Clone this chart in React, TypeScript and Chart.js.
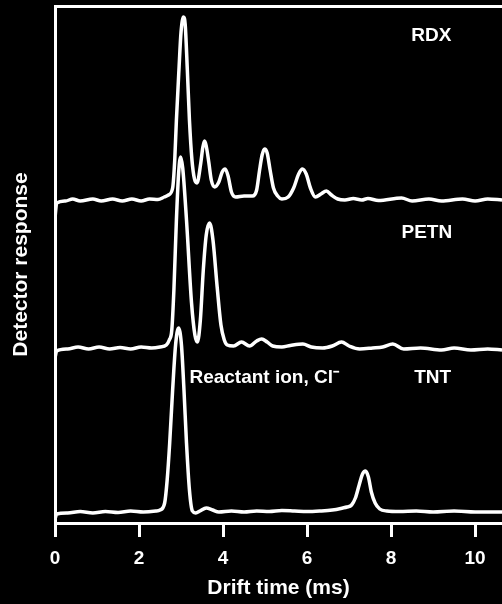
import React, { useEffect, useRef } from "react";
import { Chart, registerables } from "chart.js";

Chart.register(...registerables);

// Drift time (ms) and detector response (arbitrary units, relative to each trace's baseline)
const rdxTime = [0.0, 0.04, 0.25, 0.42, 0.6, 0.9, 1.1, 1.37, 1.6, 1.83, 2.05, 2.25, 2.45, 2.6, 2.7, 2.8, 2.85, 2.89, 2.95, 3.0, 3.06, 3.1, 3.15, 3.2, 3.26, 3.32, 3.38, 3.47, 3.52, 3.56, 3.6, 3.66, 3.72, 3.8, 3.9, 3.98, 4.05, 4.12, 4.2, 4.3, 4.5, 4.7, 4.8, 4.87, 4.93, 4.99, 5.05, 5.12, 5.2, 5.3, 5.4, 5.55, 5.68, 5.8, 5.89, 5.98, 6.08, 6.2, 6.33, 6.46, 6.58, 6.73, 6.9, 7.1, 7.3, 7.45, 7.7, 8.25, 8.5, 8.9, 9.2, 9.7, 10.0, 10.3, 10.64];
const rdxResponse = [-18, -3, -1, 1, -1, 1, -1, 1, -1, 1, -1, 1, 0.5, 3, 5, 12, 40, 80, 130, 168, 183, 175, 130, 80, 40, 21, 17, 37, 53, 59, 54, 38, 20, 13, 18, 28, 31, 24, 8, 3, 4, 4, 10, 30, 45, 51, 47, 30, 12, 4, 1, 3, 12, 26, 31, 26, 12, 3, 6, 9, 5, 1, 0, 1.5, 0, 1.5, -0.5, 2, -1, 1, -1, 1, -1, 1, 0];

const petnTime = [0.0, 0.04, 0.3, 0.55, 0.8, 1.05, 1.3, 1.55, 1.8, 2.05, 2.3, 2.5, 2.65, 2.72, 2.78, 2.83, 2.89, 2.94, 2.99, 3.04, 3.13, 3.25, 3.33, 3.39, 3.46, 3.53, 3.6, 3.68, 3.76, 3.86, 3.95, 4.03, 4.1, 4.25, 4.44, 4.63, 4.8, 4.92, 5.05, 5.18, 5.4, 5.6, 5.9, 6.1, 6.37, 6.6, 6.82, 7.0, 7.25, 7.56, 7.8, 8.04, 8.3, 8.7, 9.2, 9.5, 9.9, 10.3, 10.64];
const petnResponse = [-10, -3, -1, 1, -1, 1, -1, 0.5, -1, 1, 0, 1, 3, 8, 18, 58, 128, 173, 191, 180, 128, 45, 13, 6, 28, 78, 113, 125, 108, 61, 23, 8, 3, 2, 6, 2, 7, 9, 6, 2, 1, 2.5, 4, 1, 0, 2, 6, 2, -1, 0, 1, 4, -1, 0, -2, 0, -2, -1, -2];

const tntTime = [0.0, 0.04, 0.3, 0.6, 0.9, 1.2, 1.5, 1.8, 2.1, 2.4, 2.5, 2.61, 2.67, 2.73, 2.8, 2.87, 2.94, 3.01, 3.07, 3.13, 3.2, 3.27, 3.35, 3.45, 3.6, 3.75, 3.9, 4.2, 4.5, 4.8, 5.1, 5.4, 5.7, 6.0, 6.3, 6.6, 6.85, 6.95, 7.06, 7.15, 7.24, 7.32, 7.39, 7.46, 7.53, 7.62, 7.73, 7.9, 8.2, 8.6, 9.0, 9.5, 10.0, 10.64];
const tntResponse = [-6, -1, 0, 1.5, 0, 1.5, 0.5, 2, 1, 2, 3, 10, 33, 70, 123, 168, 185, 168, 123, 70, 23, 2, 0, 2, 5, 3, 1, 2, 1, 2, 1.5, 2.5, 2, 1.5, 2, 3, 5, 6, 8, 15, 28, 39, 42, 36, 21, 10, 4, 2, 1.5, 2, 1, 2, 1, 1];

// Vertical offsets used to stack the three spectra
const traceNames = ["RDX", "PETN", "TNT"];
const traceOffsets = [323, 175, 10];

const xTickValues = [0, 2, 4, 6, 8, 10];
const xMin = 0;
const xMax = 10.64;
const yMin = 0;
const yMax = 517;

// Text annotations (placed in data coordinates)
const labelTexts = ["RDX", "PETN", "Reactant ion, Cl\u207B", "TNT"];
const labelTimes = [8.96, 8.85, 3.2, 8.99];
const labelLevels = [487, 290, 145, 145];
const labelAligns: CanvasTextAlign[] = ["center", "center", "left", "center"];

const FONT = "'Liberation Sans', Arial, Helvetica, sans-serif";

const labelPlugin = {
  id: "traceLabels",
  afterDatasetsDraw(chart: any) {
    const { ctx, scales } = chart;
    ctx.save();
    ctx.fillStyle = "#ffffff";
    ctx.font = `bold 19px ${FONT}`;
    ctx.textBaseline = "middle";
    labelTexts.forEach((text, i) => {
      ctx.textAlign = labelAligns[i];
      ctx.fillText(text, scales.x.getPixelForValue(labelTimes[i]), scales.y.getPixelForValue(labelLevels[i]));
    });
    ctx.restore();
  },
};

function toPoints(times: number[], values: number[], offset: number) {
  return times.map((t, i) => ({ x: t, y: values[i] + offset }));
}

export default function App() {
  const canvasRef = useRef<HTMLCanvasElement | null>(null);

  useEffect(() => {
    if (!canvasRef.current) return;
    const series = [
      [rdxTime, rdxResponse],
      [petnTime, petnResponse],
      [tntTime, tntResponse],
    ];
    const chart = new Chart(canvasRef.current, {
      type: "line",
      data: {
        datasets: series.map(([t, v], i) => ({
          label: traceNames[i],
          data: toPoints(t as number[], v as number[], traceOffsets[i]),
          borderColor: "#ffffff",
          borderWidth: 3.5,
          pointRadius: 0,
          fill: false,
          cubicInterpolationMode: "monotone" as const,
        })),
      },
      options: {
        animation: false,
        responsive: true,
        maintainAspectRatio: false,
        layout: { padding: 0 },
        plugins: {
          legend: { display: false },
          tooltip: { enabled: false },
        },
        scales: {
          x: {
            type: "linear",
            position: "bottom",
            min: xMin,
            max: xMax,
            afterBuildTicks: (scale: any) => {
              scale.ticks = xTickValues.map((v) => ({ value: v }));
            },
            afterFit: (scale: any) => {
              scale.height = 81;
            },
            ticks: {
              color: "#ffffff",
              font: { family: FONT, size: 19, weight: "bold" },
              padding: 10,
              maxRotation: 0,
              callback: (v: any) => String(v),
            },
            grid: {
              display: true,
              drawOnChartArea: false,
              drawTicks: true,
              tickLength: 14,
              color: "#ffffff",
              lineWidth: 3,
            },
            border: { display: true, color: "#ffffff", width: 3 },
            title: {
              display: true,
              text: "Drift time (ms)",
              color: "#ffffff",
              font: { family: FONT, size: 21, weight: "bold" },
              padding: { top: 0, bottom: 3 },
            },
          },
          xTop: {
            type: "linear",
            position: "top",
            min: xMin,
            max: xMax,
            afterFit: (scale: any) => {
              scale.height = 6;
            },
            ticks: { display: false },
            grid: { display: false, drawTicks: false },
            border: { display: true, color: "#ffffff", width: 3 },
          },
          y: {
            type: "linear",
            min: yMin,
            max: yMax,
            afterFit: (scale: any) => {
              scale.width = 55;
            },
            ticks: { display: false },
            grid: { display: false, drawTicks: false },
            border: { display: true, color: "#ffffff", width: 3 },
            title: {
              display: true,
              text: "Detector response",
              color: "#ffffff",
              font: { family: FONT, size: 21, weight: "bold" },
              padding: { top: 9, bottom: 0 },
            },
          },
        },
      } as any,
      plugins: [labelPlugin],
    });
    return () => chart.destroy();
  }, []);

  return (
    <div
      style={{
        position: "absolute",
        left: 0,
        top: 0,
        width: 502,
        height: 604,
        background: "#000000",
      }}
    >
      <canvas ref={canvasRef} />
    </div>
  );
}
